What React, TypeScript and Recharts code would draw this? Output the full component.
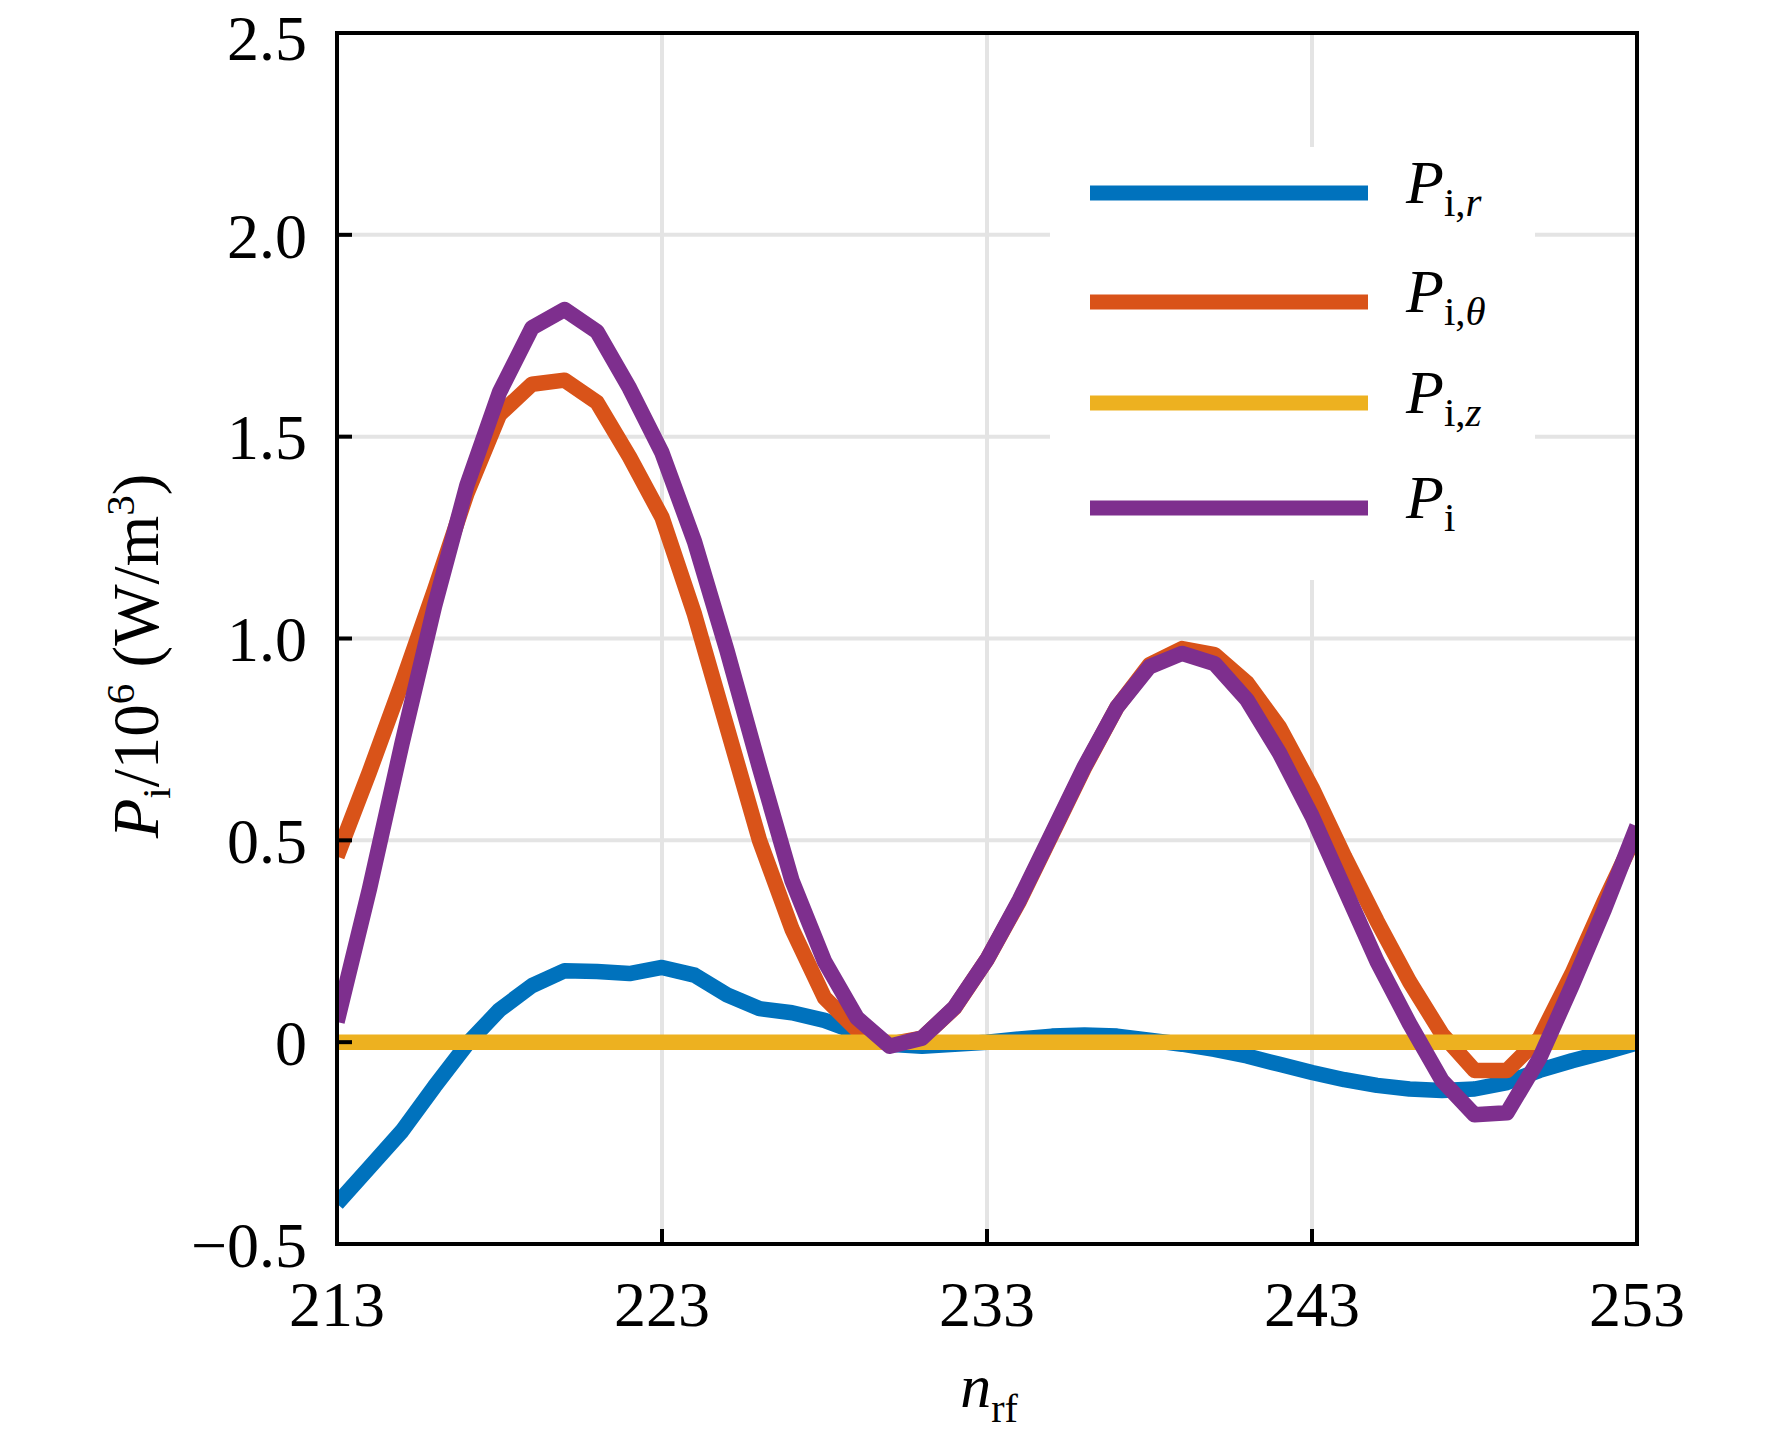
import { LineChart, Line, XAxis, YAxis, CartesianGrid, Legend, Label } from 'recharts';

// n_rf sample points
const nRf = [
  213, 214, 215, 216, 217, 218, 219, 220, 221, 222, 223, 224, 225, 226, 227, 228, 229, 230, 231, 232, 233,
  234, 235, 236, 237, 238, 239, 240, 241, 242, 243, 244, 245, 246, 247, 248, 249, 250, 251, 252, 253,
];

// P_i,r / 1e6
const piR = [
  -0.4, -0.31, -0.22, -0.11, -0.005, 0.08, 0.14, 0.177, 0.175, 0.17, 0.185, 0.166, 0.117, 0.083, 0.073, 0.054,
  0.024, -0.005, -0.01, -0.005, 0.0, 0.008, 0.015, 0.018, 0.015, 0.005, -0.005, -0.018, -0.034, -0.055, -0.075,
  -0.093, -0.107, -0.116, -0.12, -0.116, -0.1, -0.07, -0.046, -0.025, -0.002,
];

// P_i,theta / 1e6
const piTheta = [
  0.46, 0.67, 0.89, 1.12, 1.36, 1.555, 1.63, 1.64, 1.585, 1.45, 1.3, 1.06, 0.78, 0.5, 0.28, 0.11, 0.03,
  -0.005, 0.01, 0.085, 0.205, 0.35, 0.515, 0.68, 0.83, 0.935, 0.975, 0.96, 0.89, 0.78, 0.63, 0.46, 0.3, 0.15,
  0.02, -0.07, -0.07, 0.01, 0.17, 0.35, 0.52,
];

// P_i,z / 1e6
const piZ = [
  0, 0, 0, 0, 0, 0, 0, 0, 0, 0, 0, 0, 0, 0, 0, 0, 0, 0, 0, 0, 0,
  0, 0, 0, 0, 0, 0, 0, 0, 0, 0, 0, 0, 0, 0, 0, 0, 0, 0, 0, 0,
];

// P_i / 1e6
const piTotal = [
  0.05, 0.38, 0.74, 1.08, 1.38, 1.61, 1.77, 1.815, 1.76, 1.62, 1.46, 1.24, 0.97, 0.68, 0.4, 0.2, 0.06,
  -0.01, 0.01, 0.086, 0.205, 0.353, 0.518, 0.683, 0.83, 0.93, 0.963, 0.938, 0.848, 0.716, 0.56, 0.38, 0.2,
  0.046, -0.095, -0.18, -0.175, -0.04, 0.14, 0.33, 0.535,
];

const xTicks = [213, 223, 233, 243, 253];
const yTicks = [-0.5, 0, 0.5, 1, 1.5, 2, 2.5];
const yTickLabels = ['\u22120.5', '0', '0.5', '1.0', '1.5', '2.0', '2.5'];

const series = [
  { key: 'piR', color: '#0072BD', sub: 'i,', subItalic: 'r' },
  { key: 'piTheta', color: '#D95319', sub: 'i,', subItalic: '\u03b8' },
  { key: 'piZ', color: '#EDB120', sub: 'i,', subItalic: 'z' },
  { key: 'piTotal', color: '#7E2F8E', sub: 'i', subItalic: '' },
];

const data = nRf.map((n, i) => ({
  n,
  piR: piR[i],
  piTheta: piTheta[i],
  piZ: piZ[i],
  piTotal: piTotal[i],
}));

const SERIF = "'Liberation Serif', 'Times New Roman', Times, serif";
const W = 1772;
const H = 1443;
const LEFT = 337;
const RIGHT = 1637;
const TOP = 33;
const BOTTOM = 1244;
const TICK = -15; // inward ticks

const axisLine = { stroke: '#000', strokeWidth: 4, strokeLinecap: 'square' as const };
const tickLine = { stroke: '#000', strokeWidth: 4 };

function XLabel() {
  return (
    <text x={(LEFT + RIGHT) / 2 + 2} y={1407} textAnchor="middle" fontFamily={SERIF} fontSize={62} fill="#000">
      <tspan fontStyle="italic">n</tspan>
      <tspan fontSize={40} dy={15}>rf</tspan>
    </text>
  );
}

function YLabel() {
  const cx = 158;
  const cy = 656;
  return (
    <text
      transform={`rotate(-90 ${cx} ${cy})`}
      x={cx}
      y={cy}
      textAnchor="middle"
      fontFamily={SERIF}
      fontSize={65}
      fill="#000"
      style={{ whiteSpace: 'pre' }}
    >
      <tspan fontStyle="italic">P</tspan>
      <tspan fontSize={41} dy={12}>i</tspan>
      <tspan dy={-12}>/10</tspan>
      <tspan fontSize={41} dy={-24}>6</tspan>
      <tspan dy={24}> (W/m</tspan>
      <tspan fontSize={41} dy={-24}>3</tspan>
      <tspan dy={24}>)</tspan>
    </text>
  );
}

const LEGEND_ROWS = [46, 155, 256, 361];

function LegendBox(props: any) {
  const payload = props.payload || [];
  return (
    <svg width={485} height={433} style={{ display: 'block' }}>
      <rect x={0} y={0} width={485} height={433} fill="#fff" />
      {series.map((s, i) => {
        const entry = payload.find((p: any) => p.dataKey === s.key);
        const cy = LEGEND_ROWS[i];
        return (
          <g key={s.key}>
            <line x1={40} x2={318} y1={cy} y2={cy} stroke={entry ? entry.color : s.color} strokeWidth={15} />
            <text x={356} y={cy + 10} fontFamily={SERIF} fontSize={62} fill="#000">
              <tspan fontStyle="italic">P</tspan>
              <tspan fontSize={41} dy={13}>{s.sub}</tspan>
              {s.subItalic ? <tspan fontSize={41} fontStyle="italic">{s.subItalic}</tspan> : null}
            </text>
          </g>
        );
      })}
    </svg>
  );
}

export default function App() {
  return (
    <div style={{ position: 'absolute', left: 0, top: 0, width: W, height: H, background: '#fff' }}>
      <LineChart width={W} height={H} data={data} margin={{ top: 0, right: 0, bottom: 0, left: 0 }}>
        <CartesianGrid stroke="#e4e4e4" strokeWidth={4} />
        <XAxis
          dataKey="n"
          type="number"
          domain={[213, 253]}
          ticks={xTicks}
          allowDataOverflow
          height={H - BOTTOM}
          axisLine={axisLine}
          tickLine={tickLine}
          tickSize={TICK}
          tickMargin={52}
          tick={{ fill: '#000', fontSize: 64, fontFamily: SERIF }}
        >
          <Label content={XLabel} />
        </XAxis>
        <XAxis
          xAxisId="top"
          orientation="top"
          dataKey="n"
          type="number"
          domain={[213, 253]}
          ticks={xTicks}
          allowDataOverflow
          height={TOP}
          axisLine={axisLine}
          tickLine={tickLine}
          tickSize={TICK}
          tick={false}
        />
        <YAxis
          type="number"
          domain={[-0.5, 2.5]}
          ticks={yTicks}
          allowDataOverflow
          width={LEFT}
          axisLine={axisLine}
          tickLine={tickLine}
          tickSize={TICK}
          tickMargin={45}
          tickFormatter={(v: number) => yTickLabels[yTicks.indexOf(v)]}
          tick={{ fill: '#000', fontSize: 64, fontFamily: SERIF }}
        >
          <Label content={YLabel} />
        </YAxis>
        <YAxis
          yAxisId="right"
          orientation="right"
          type="number"
          domain={[-0.5, 2.5]}
          ticks={yTicks}
          allowDataOverflow
          width={W - RIGHT}
          axisLine={axisLine}
          tickLine={tickLine}
          tickSize={TICK}
          tick={false}
        />
        {series.map((s) => (
          <Line
            key={s.key}
            dataKey={s.key}
            type="linear"
            stroke={s.color}
            strokeWidth={15.5}
            strokeLinejoin="round"
            dot={false}
            activeDot={false}
            isAnimationActive={false}
          />
        ))}
        <Legend
          layout="vertical"
          align="center"
          verticalAlign="middle"
          width={485}
          height={433}
          wrapperStyle={{ left: 1050, top: 147, width: 485, height: 433 }}
          content={LegendBox}
        />
      </LineChart>
    </div>
  );
}
